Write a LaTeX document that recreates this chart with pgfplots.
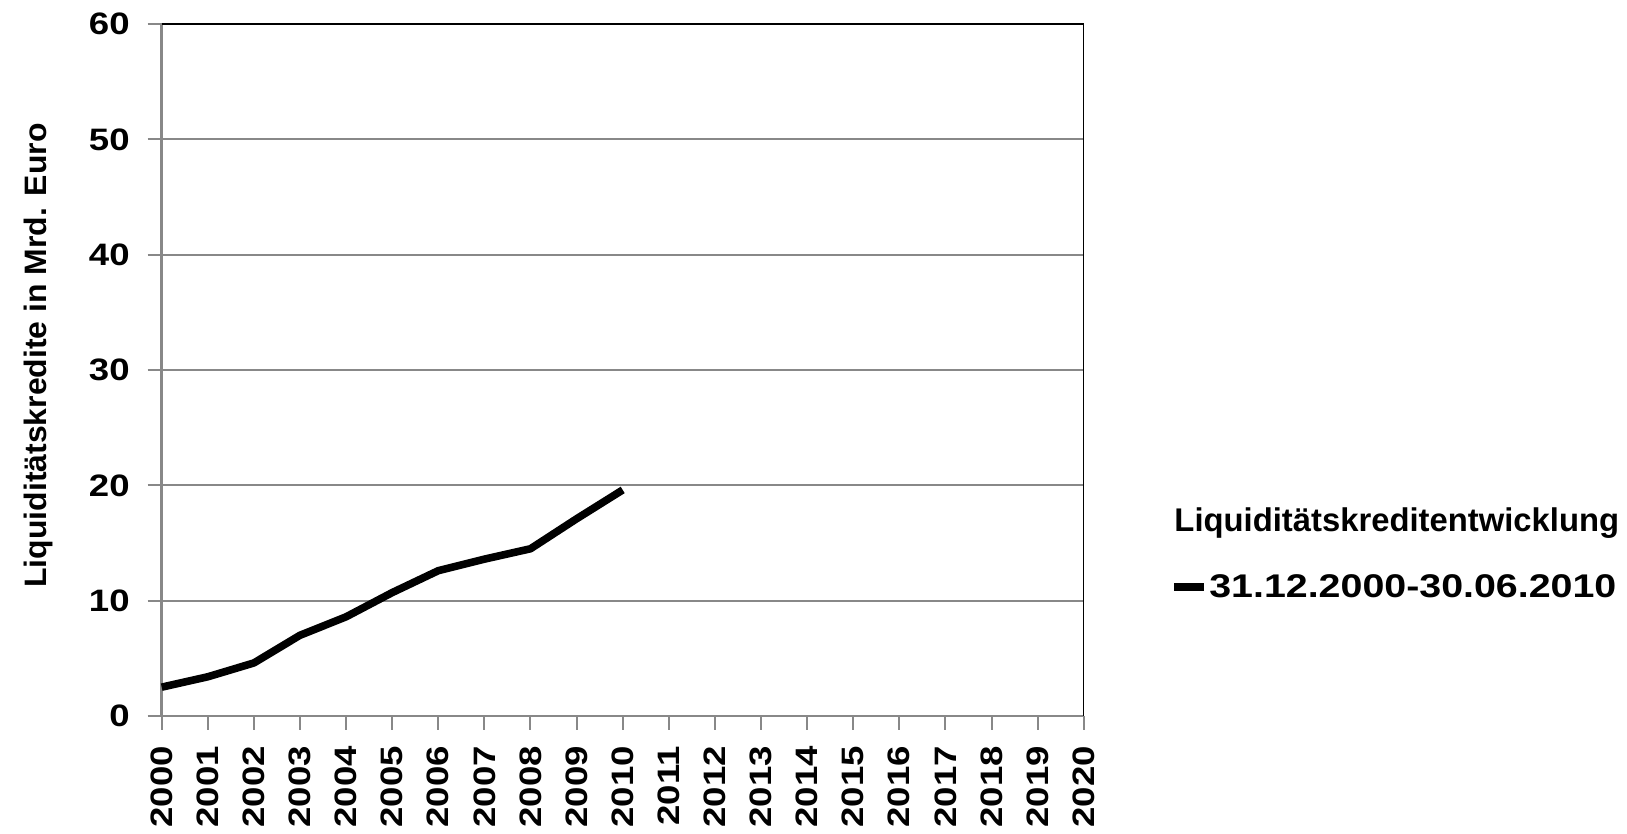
\documentclass[border=0pt]{standalone}
\usepackage{fontspec}
\setmainfont{Liberation Sans}
\newfontfamily\digitfont{Liberation Sans}[FakeStretch=1.18]
\newfontfamily\labfont{Liberation Sans}[FakeStretch=1.03]
\newfontfamily\legfont{Liberation Sans}[FakeStretch=1.20]
\usepackage{pgfplots}
\pgfplotsset{compat=1.18}
\definecolor{axgray}{HTML}{888888}
\newcommand\tf{\digitfont\fontsize{15.5}{18}\selectfont\bfseries}
\newcommand\yf{\labfont\fontsize{15.5}{18}\selectfont\bfseries}
\newcommand\lf{\legfont\fontsize{16.4}{19}\selectfont\bfseries}
\newcommand\ttf{\fontsize{16.4}{19}\selectfont\bfseries}
\begin{document}
\begin{tikzpicture}
\begin{axis}[
  scale only axis, width=461pt, height=346pt,
  xmin=2000, xmax=2020, ymin=0, ymax=60,
  xtick={2000,2001,...,2020}, ytick={0,10,...,60},
  axis lines=left, axis line style={-, draw=axgray, line width=1.2pt},
  tick align=outside, major tick length=7pt,
  tick style={axgray, line width=1pt},
  ymajorgrids, grid style={axgray, line width=1pt},
  /pgf/number format/1000 sep={},
  /pgf/number format/assume math mode=true,
  tick label style={font=\tf},
  yticklabel style={xshift=-5.5pt},
  xticklabel style={yshift=-4.5pt, rotate=90, anchor=east},
  ylabel={Liquiditätskredite in Mrd. Euro},
  every axis y label/.style={at={(axis description cs:-0.134,0.521)}, rotate=90, anchor=center, font=\yf},
  legend style={at={(axis description cs:1.0935,0.186)}, anchor=west, draw=none, fill=none, font=\lf, inner sep=0pt,
    nodes={inner sep=0.5pt}},
  legend cell align=left,
  legend image code/.code={\draw[line width=4pt, black] (0pt,0pt) -- (15pt,0pt);},
  clip=false,
]
\addplot[black, line width=3.8pt, line join=round] coordinates {
  (2000,2.5) (2001,3.4) (2002,4.6) (2003,7.0) (2004,8.6) (2005,10.7)
  (2006,12.6) (2007,13.6) (2008,14.5) (2009,17.1) (2010,19.6)
};
\addlegendentry{31.12.2000-30.06.2010}
\draw[black, line width=0.7pt] (rel axis cs:0,1) -- (rel axis cs:1,1) -- (rel axis cs:1,0);
\node[anchor=west, inner sep=0pt, font=\ttf] at (axis description cs:1.098,0.279) {Liquiditätskreditentwicklung};
\end{axis}
\pgfresetboundingbox
\path[use as bounding box] (-80.85pt,-59pt) rectangle (732.65pt,358pt);
\end{tikzpicture}
\end{document}
